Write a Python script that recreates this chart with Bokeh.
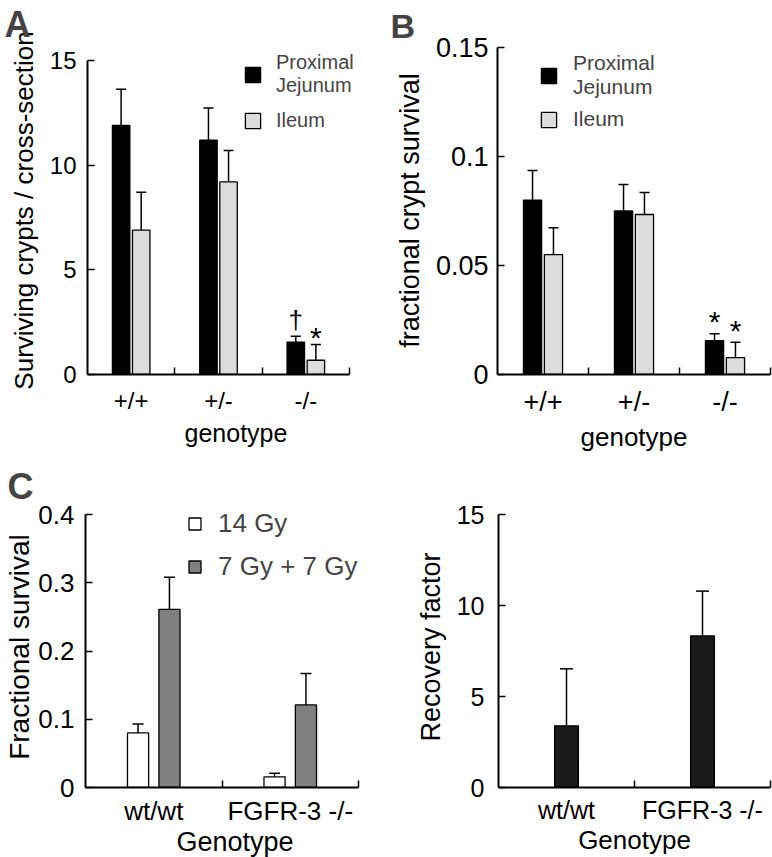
import numpy as np
from bokeh.plotting import figure
from bokeh.layouts import row, column
from bokeh.models import (Range1d, FixedTicker, Legend, LegendItem, Whisker, TeeHead,
                          ColumnDataSource, NumeralTickFormatter)
from bokeh.core.properties import value
from bokeh.embed import file_html
from bokeh.resources import INLINE

# ---------------- data ----------------
genotypes_ab = ["+/+", "+/-", "-/-"]
a_jejunum = [11.9, 11.2, 1.55]
a_jejunum_err = [1.73, 1.53, 0.28]
a_ileum = [6.9, 9.2, 0.68]
a_ileum_err = [1.81, 1.50, 0.75]
a_jejunum_mark = ["", "", "†"]
a_ileum_mark = ["", "", "*"]
a_yticks = [0, 5, 10, 15]

b_jejunum = [0.080, 0.075, 0.0155]
b_jejunum_err = [0.0136, 0.0121, 0.0032]
b_ileum = [0.055, 0.0734, 0.0077]
b_ileum_err = [0.0123, 0.0101, 0.0071]
b_jejunum_mark = ["", "", "*"]
b_ileum_mark = ["", "", "*"]
b_yticks = [0, 0.05, 0.1, 0.15]

genotypes_cd = ["wt/wt", "FGFR-3 -/-"]
c_14gy = [0.080, 0.0157]
c_14gy_err = [0.013, 0.0053]
c_7gy7gy = [0.261, 0.121]
c_7gy7gy_err = [0.047, 0.046]
c_yticks = [0, 0.1, 0.2, 0.3, 0.4]

d_recovery = [3.39, 8.33]
d_recovery_err = [3.13, 2.46]
d_yticks = [0, 5, 10, 15]

FONT = "Liberation Sans"


def base_fig(frame, borders, axis_px, cats, ymax, yticks, yfmt, ylabel, xlabel,
             fonts, standoffs, letter=None, letter_fs=36, letter_offset=0,
             letter_standoff=0, letter_valign="bottom"):
    """frame=(fw, fh); axis_px=(x-axis length px, y-axis length px)"""
    n = len(cats)
    fw, fh = frame
    left, right, top, bottom = borders
    x_end = n * fw / axis_px[0]
    y_end = ymax * fh / axis_px[1]
    tick_fs, xlab_fs, ylab_fs = fonts
    x_std, xlab_std, y_std, ylab_std = standoffs
    p = figure(frame_width=fw, frame_height=fh, x_range=Range1d(0, x_end),
               y_range=Range1d(0, y_end), output_backend="svg", toolbar_location=None,
               min_border_left=left, min_border_right=right,
               min_border_top=top, min_border_bottom=bottom)
    p.outline_line_color = None
    p.grid.visible = False
    centers = [i + 0.5 for i in range(n)]
    xa = p.xaxis[0]
    xa.bounds = (0, n)
    xa.ticker = FixedTicker(ticks=centers, minor_ticks=list(range(1, n + 1)))
    xa.major_label_overrides = {c: cat for c, cat in zip(centers, cats)}
    xa.major_tick_in = 0
    xa.major_tick_out = 0
    xa.minor_tick_in = 7
    xa.minor_tick_out = 0
    xa.minor_tick_line_width = 1.5
    xa.axis_label = xlabel
    xa.major_label_standoff = x_std
    xa.axis_label_standoff = xlab_std
    xa.axis_label_text_font_size = f"{xlab_fs}px"
    ya = p.yaxis[0]
    ya.bounds = (0, ymax)
    ya.ticker = FixedTicker(ticks=yticks)
    ya.formatter = NumeralTickFormatter(format=yfmt)
    ya.major_tick_in = 7
    ya.major_tick_out = 0
    ya.minor_tick_in = 0
    ya.minor_tick_out = 0
    ya.major_tick_line_width = 1.5
    ya.axis_label = ylabel
    ya.major_label_standoff = y_std
    ya.axis_label_standoff = ylab_std
    ya.axis_label_text_font_size = f"{ylab_fs}px"
    for ax in (xa, ya):
        ax.axis_line_width = 2
        ax.major_label_text_font = FONT
        ax.major_label_text_font_size = f"{tick_fs}px"
        ax.major_label_text_color = "black"
        ax.axis_label_text_font = FONT
        ax.axis_label_text_font_style = "normal"
        ax.axis_label_text_color = "black"
    if letter:
        p.title.text = letter
        p.title.align = "left"
        p.title.vertical_align = letter_valign
        p.title.offset = letter_offset
        p.title.standoff = letter_standoff
        p.title.text_font = FONT
        p.title.text_font_size = f"{letter_fs}px"
        p.title.text_font_style = "bold"
    return p


def add_bars(p, xs, vals, errs, width, fill, cap, marks=None, mark_fs=24, mark_off=0):
    src = ColumnDataSource(dict(x=xs, top=vals, upper=[v + e for v, e in zip(vals, errs)],
                                mark=marks if marks else [""] * len(xs)))
    r = p.vbar(x="x", top="top", bottom=0, width=width, source=src,
               fill_color=fill, line_color="black", line_width=1.3)
    wk = Whisker(source=src, base="x", upper="upper", lower="top", dimension="height",
                 lower_head=None, upper_head=TeeHead(size=cap, line_width=1.5),
                 line_width=1.5, line_color="black", level="glyph")
    p.add_layout(wk)
    if marks:
        p.text(x="x", y="upper", text="mark", source=src, text_font=value(FONT),
               text_font_size=f"{mark_fs}px", text_align="center",
               text_baseline="alphabetic", y_offset=mark_off, text_color="black")
    return r


def add_legend(p, items, loc, glyph, fs, spacing, standoff):
    leg = Legend(items=items, location=loc, glyph_width=glyph, glyph_height=glyph,
                 label_text_font=FONT, label_text_font_size=f"{fs}px",
                 label_standoff=standoff, spacing=spacing, padding=0, margin=0,
                 border_line_color=None, background_fill_alpha=0)
    p.add_layout(leg)


off = 0.115
# ---------------- panel A ----------------
nA = len(genotypes_ab)
pA = base_fig((297, 328), (87, 2, 46, 80), (262, 314), genotypes_ab, 15, a_yticks, "0",
              "Surviving crypts / cross-section", "genotype",
              (24, 25, 26), (12, 2, 11, 8), "A", 36, -83, 0, "top")
rA1 = add_bars(pA, [i + 0.5 - off for i in range(nA)], a_jejunum, a_jejunum_err, 0.2,
               "black", 10, a_jejunum_mark, 26, -16)
rA2 = add_bars(pA, [i + 0.5 + off for i in range(nA)], a_ileum, a_ileum_err, 0.2,
               "#dcdcdc", 10, a_ileum_mark, 30, -7)
add_legend(pA, [LegendItem(label="Proximal\nJejunum", renderers=[rA1]),
                LegendItem(label="Ileum", renderers=[rA2])],
           (156, 242), 19, 20, 12, 14)

# ---------------- panel B ----------------
pB = base_fig((273, 328), (111, 2, 46, 80), (273, 327), genotypes_ab, 0.15, b_yticks, "0.[00]",
              "fractional crypt survival", "genotype",
              (27, 26, 27), (12, 2, 9, 8), "B", 34, -107, 0, "top")
rB1 = add_bars(pB, [i + 0.5 - off for i in range(nA)], b_jejunum, b_jejunum_err, 0.2,
               "black", 10, b_jejunum_mark, 30, -12)
rB2 = add_bars(pB, [i + 0.5 + off for i in range(nA)], b_ileum, b_ileum_err, 0.2,
               "#dcdcdc", 10, b_ileum_mark, 30, -12)
add_legend(pB, [LegendItem(label="Proximal\nJejunum", renderers=[rB1]),
                LegendItem(label="Ileum", renderers=[rB2])],
           (42, 243), 19, 21, 8, 15)

# ---------------- panel C ----------------
nC = len(genotypes_cd)
pC = base_fig((299, 281), (85, 2, 52, 69), (273, 273), genotypes_cd, 0.4, c_yticks, "0.[0]",
              "Fractional survival", "Genotype",
              (26, 27, 28), (8, -2, 11, 0), "C", 36, -78, 0, "bottom")
rC1 = add_bars(pC, [i + 0.5 - off for i in range(nC)], c_14gy, c_14gy_err, 0.155,
               "white", 11)
rC2 = add_bars(pC, [i + 0.5 + off for i in range(nC)], c_7gy7gy, c_7gy7gy_err, 0.155,
               "#808080", 11)
add_legend(pC, [LegendItem(label="14 Gy", renderers=[rC1]),
                LegendItem(label="7 Gy + 7 Gy", renderers=[rC2])],
           (102, 205), 15, 26, 12, 16)

# ---------------- panel D ----------------
pD = base_fig((272, 281), (112, 2, 52, 69), (272, 273), genotypes_cd, 15, d_yticks, "0",
              "Recovery factor", "Genotype",
              (25, 26, 27), (8, -2, 14, 8))
add_bars(pD, [i + 0.5 for i in range(nC)], d_recovery, d_recovery_err, 0.175,
         "#1a1a1a", 13)

layout = column(row(pA, pB), row(pC, pD))
open("out.html", "w").write(file_html(layout, INLINE))
